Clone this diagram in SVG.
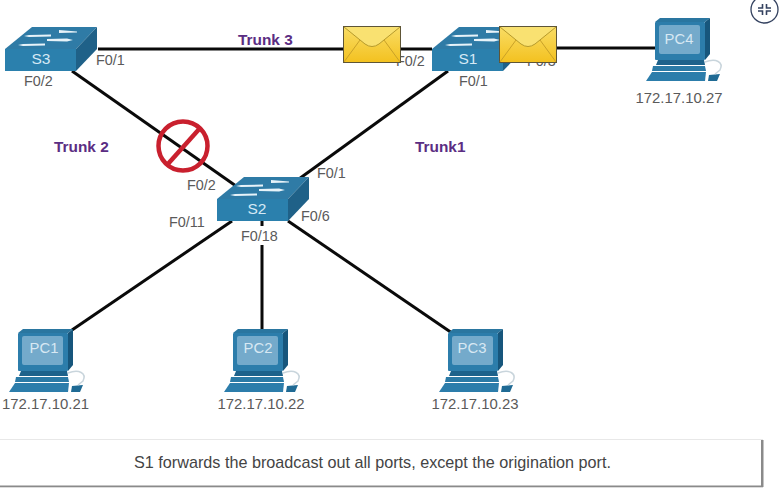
<svg xmlns="http://www.w3.org/2000/svg" width="779" height="488" viewBox="0 0 779 488">
<style>
text{font-family:"Liberation Sans",Arial,sans-serif}
.port{font-size:14.400px;fill:#5a5a5a}
.ip{font-size:14.900px;fill:#5a5a5a;text-anchor:middle}
.trunk{font-size:15.400px;font-weight:bold;fill:#5b2d83}
.dev{font-size:15.500px;fill:#d5e9f5;text-anchor:middle}
.pcl{font-size:14.800px;fill:#d8e8f3;text-anchor:middle}
.wire{stroke:#0a0a0a;stroke-width:3;fill:none}
</style>
<defs>
<linearGradient id="gold" x1="0" y1="0" x2="0" y2="1"><stop offset="0" stop-color="#f9dd66"/><stop offset="1" stop-color="#f3c11f"/></linearGradient>
<g id="switch">
<polygon points="0,22 27,0 92,0 71,22" fill="#2f7ba6"/>
<polygon points="71,22 92,0 92,22 71,44" fill="#1f6188"/>
<rect x="0" y="22" width="71" height="22" fill="#2b80ad"/>
<g fill="#e8f3f9">
<polygon points="54,3 72,4.500 72,5.500 54,6"/>
<polygon points="24,8 46,7.500 46,9.500 24,10 19,9"/>
<polygon points="42,12 62,11.500 68,13 62,14.500 42,14"/>
<polygon points="18,17 40,16.500 40,18.500 18,19 13,18"/>
</g>
</g>
<g id="pc">
<polygon points="9,4 14,0 64,0 59,4" fill="#2a76a0"/>
<polygon points="59,4 64,0 64,36 59,42" fill="#17567c"/>
<rect x="9" y="4" width="50" height="38" rx="1" fill="#2c7dab"/>
<rect x="13" y="7" width="41" height="29" rx="2" fill="#74aacb"/>
<polygon points="12,42 58,42 59,47 10,47" fill="#1d628b"/>
<polygon points="7,48 59,48 60,53 6,53" fill="#2b7aa6"/>
<polygon points="6,54 60,54 59,63 0,63" fill="#2c7dab"/>
<polygon points="63,57 74,56 71,63 62,63" fill="#1f6a94"/>
<path d="M59,44C70,40 78,44 74,52L69,56" fill="none" stroke="#c9d5dc" stroke-width="1.500"/>
</g>
<g id="env">
<rect x="0.500" y="0.500" width="57" height="36" fill="url(#gold)" stroke="#5e5536" stroke-width="1"/>
<path d="M1,1 L22,18Q29,23 36,18L57,1" fill="#f9e171" stroke="#b69a2c" stroke-width="1"/>
<path d="M1,36L17,14M57,36L41,14" fill="none" stroke="#c9a128" stroke-width="1"/>
</g>
</defs>
<rect width="779" height="488" fill="#ffffff"/>
<g id="connectors">
<path class="wire" d="M98,49H432"/>
<path class="wire" d="M528,48H655"/>
<path class="wire" d="M72,71L236,186"/>
<path class="wire" d="M448,71L292,184"/>
<path class="wire" d="M72,330L232,221"/>
<path class="wire" d="M262,218V226M262,245V329"/>
<path class="wire" d="M288,221L452,333"/>
</g>
<g id="S3"><use href="#switch" x="5" y="27"/><text class="dev" x="41" y="64">S3</text></g>
<g id="S1"><use href="#switch" x="432" y="27"/><text class="dev" x="468" y="64">S1</text></g>
<g id="S2"><use href="#switch" x="217" y="177"/><text class="dev" x="257" y="214">S2</text></g>
<g id="PC1"><use href="#pc" x="9" y="329"/><text class="pcl" x="44" y="353">PC1</text><text class="ip" x="45.500" y="409">172.17.10.21</text></g>
<g id="PC2"><use href="#pc" x="224" y="329"/><text class="pcl" x="258" y="353">PC2</text><text class="ip" x="261" y="409">172.17.10.22</text></g>
<g id="PC3"><use href="#pc" x="439" y="329"/><text class="pcl" x="472" y="353">PC3</text><text class="ip" x="475" y="409">172.17.10.23</text></g>
<g id="PC4"><use href="#pc" x="646" y="18"/><text class="pcl" x="679" y="44">PC4</text><text class="ip" x="679" y="103">172.17.10.27</text></g>
<g id="labels">
<text class="port" x="96" y="65">F0/1</text>
<text class="port" x="24" y="86">F0/2</text>
<text class="port" x="396" y="66">F0/2</text>
<text class="port" x="527" y="66">F0/3</text>
<text class="port" x="459" y="86">F0/1</text>
<text class="port" x="187" y="190">F0/2</text>
<text class="port" x="317" y="178">F0/1</text>
<text class="port" x="169" y="227">F0/11</text>
<text class="port" x="301" y="221">F0/6</text>
<text class="port" x="241" y="241">F0/18</text>
<text class="trunk" x="238" y="45">Trunk 3</text>
<text class="trunk" x="54" y="152">Trunk 2</text>
<text class="trunk" x="415" y="152">Trunk1</text>
</g>
<g id="envelope1"><use href="#env" x="343" y="26"/></g>
<g id="envelope2"><use href="#env" x="499" y="26"/></g>
<g id="blocked" fill="none" stroke="#c9202e" stroke-width="4.500">
<circle cx="183" cy="146" r="24.500"/><path d="M167,165L201,127"/>
</g>
<g id="caption">
<rect x="0" y="439" width="763" height="1" fill="#e8e8e8"/>
<rect x="761" y="440" width="2.500" height="47" fill="#8a8a8a"/>
<rect x="0" y="485.500" width="763" height="1.800" fill="#8a8a8a"/>
<text x="372.500" y="468" font-size="16.200" fill="#444" text-anchor="middle">S1 forwards the broadcast out all ports, except the origination port.</text>
</g>
<g id="expand" fill="none" stroke="#33415f" stroke-width="1.300">
<circle cx="764.500" cy="9.500" r="13.500"/>
<path d="M762.500,4V8H758M766.500,4V8H771M762.500,15V11H758M766.500,15V11H771" stroke-width="1.600"/>
</g>
</svg>
